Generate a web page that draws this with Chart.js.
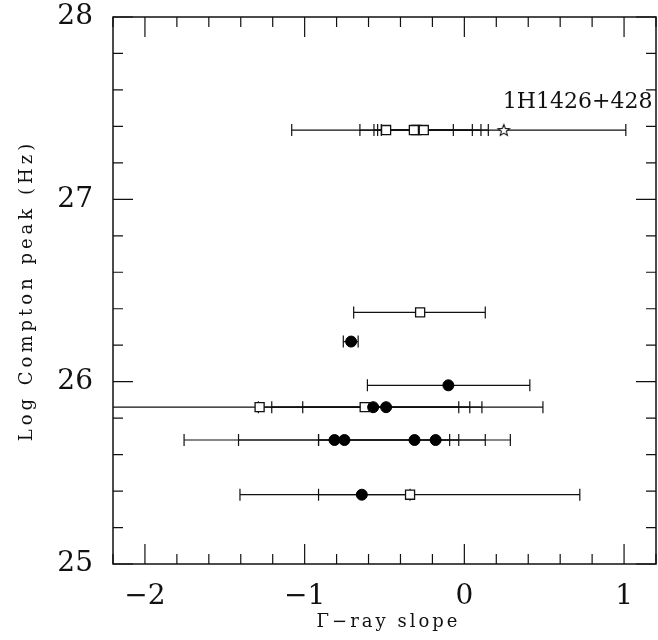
<!DOCTYPE html>
<html>
<head>
<meta charset="utf-8">
<script src="https://cdn.jsdelivr.net/npm/chart.js@4.4.1/dist/chart.umd.min.js"></script>
<style>
  body { margin: 0; background: #fff; }
  canvas { display: block; }
</style>
</head>
<body>
<canvas id="comptonChart" width="658" height="640"></canvas>
<script>
// Filled circles: slope, log peak, error bar ends
const circleX  = [-0.709, -0.10, -0.571, -0.49, -0.813, -0.751, -0.312, -0.18, -0.642];
const circleY  = [26.22, 25.98, 25.86, 25.86, 25.68, 25.68, 25.68, 25.68, 25.38];
const circleLo = [-0.758, -0.607, -1.012, -1.206, -1.414, -1.755, -0.913, -0.913, -0.913];
const circleHi = [-0.665, 0.41, -0.035, 0.11, -0.092, 0.288, 0.131, -0.035, -0.34];

// Open squares
const squareX  = [-0.49, -0.30, -0.316, -0.254, -0.277, -1.282, -0.624, -0.34];
const squareY  = [27.38, 27.38, 27.38, 27.38, 26.38, 25.86, 25.86, 25.38];
const squareLo = [-0.654, -0.52, -0.566, -0.543, -0.693, -2.45, -1.29, -1.405];
const squareHi = [0.15, 0.05, -0.069, 0.104, 0.131, 0.492, 0.034, 0.723];

// Star (1H1426+428)
const starX  = [0.247];
const starY  = [27.38];
const starLo = [-1.081];
const starHi = [1.011];
const starLabel = "1H1426+428";

const xTickValues = [-2, -1, 0, 1];
const yTickValues = [25, 26, 27, 28];
const xTitle = "\u0393\u2212ray slope";
const yTitle = "Log Compton peak (Hz)";

const SERIF = '"DejaVu Serif", serif';
Chart.defaults.font.family = SERIF;
Chart.defaults.color = "#111";

const toPoints = (xs, ys, lo, hi) =>
  xs.map((x, i) => ({ x: x, y: ys[i], lo: lo[i], hi: hi[i] }));

// open five-point star used as point style
const starImg = document.createElement("canvas");
starImg.width = 16;
starImg.height = 16;
(() => {
  const c = starImg.getContext("2d");
  c.beginPath();
  for (let i = 0; i < 10; i++) {
    const r = i % 2 === 0 ? 6 : 2.6;
    const a = -Math.PI / 2 + (i * Math.PI) / 5;
    const px = 8 + r * Math.cos(a), py = 8.5 + r * Math.sin(a);
    i === 0 ? c.moveTo(px, py) : c.lineTo(px, py);
  }
  c.closePath();
  c.fillStyle = "#fff";
  c.fill();
  c.strokeStyle = "#111";
  c.lineWidth = 1.1;
  c.stroke();
})();

// error bars under the points, frame + inward ticks + texts on top
const framePlugin = {
  id: "framePlugin",
  beforeDatasetsDraw(chart) {
    const { ctx, chartArea: a, scales: { x, y } } = chart;
    ctx.save();
    ctx.beginPath();
    ctx.rect(a.left, a.top, a.right - a.left, a.bottom - a.top);
    ctx.clip();
    ctx.strokeStyle = "#111";
    ctx.lineWidth = 1.2;
    chart.data.datasets.forEach((ds) => {
      ds.data.forEach((p) => {
        const py = y.getPixelForValue(p.y);
        const x0 = x.getPixelForValue(p.lo);
        const x1 = x.getPixelForValue(p.hi);
        ctx.beginPath();
        ctx.moveTo(x0, py); ctx.lineTo(x1, py);
        ctx.moveTo(x0, py - 6); ctx.lineTo(x0, py + 6);
        ctx.moveTo(x1, py - 6); ctx.lineTo(x1, py + 6);
        ctx.stroke();
      });
    });
    ctx.restore();
  },
  afterDraw(chart) {
    const { ctx, chartArea: a, scales: { x, y } } = chart;
    ctx.save();
    ctx.strokeStyle = "#111";
    ctx.lineWidth = 1.5;
    ctx.strokeRect(a.left, a.top, a.right - a.left, a.bottom - a.top);

    ctx.lineWidth = 1.2;
    ctx.beginPath();
    // x ticks every 0.2
    for (let k = Math.ceil(x.min * 5); k <= Math.floor(x.max * 5); k++) {
      const px = x.getPixelForValue(k / 5);
      const len = k % 5 === 0 ? 20 : 10;
      ctx.moveTo(px, a.bottom); ctx.lineTo(px, a.bottom - len);
      ctx.moveTo(px, a.top); ctx.lineTo(px, a.top + len);
    }
    // y ticks every 0.2
    for (let k = Math.ceil(y.min * 5); k <= Math.floor(y.max * 5); k++) {
      const py = y.getPixelForValue(k / 5);
      const len = k % 5 === 0 ? 20 : 10;
      ctx.moveTo(a.left, py); ctx.lineTo(a.left + len, py);
      ctx.moveTo(a.right, py); ctx.lineTo(a.right - len, py);
    }
    ctx.stroke();

    ctx.fillStyle = "#111";
    ctx.textAlign = "left";
    ctx.textBaseline = "alphabetic";
    // source label
    ctx.font = "22px " + SERIF;
    ctx.fillText(starLabel, x.getPixelForValue(starX[0]) - 1, y.getPixelForValue(starY[0]) - 22);

    // axis titles, spaced out like the plotter font
    ctx.textAlign = "center";
    ctx.textBaseline = "middle";
    ctx.font = "18px " + SERIF;
    ctx.letterSpacing = "3px";
    ctx.fillText(xTitle, (a.left + a.right) / 2 + 4, 622);
    ctx.letterSpacing = "4px";
    ctx.translate(27, (a.top + a.bottom) / 2);
    ctx.rotate(-Math.PI / 2);
    ctx.fillText(yTitle, 0, 0);
    ctx.restore();
  }
};

const fmt = (v) => (v < 0 ? "\u2212" + Math.abs(v) : String(v));

new Chart(document.getElementById("comptonChart"), {
  type: "scatter",
  data: {
    datasets: [
      {
        label: "filled",
        data: toPoints(circleX, circleY, circleLo, circleHi),
        pointStyle: "circle",
        pointRadius: 5.5,
        backgroundColor: "#000",
        borderColor: "#000",
        borderWidth: 1
      },
      {
        label: "open",
        data: toPoints(squareX, squareY, squareLo, squareHi),
        pointStyle: "rect",
        pointRadius: 6.4,
        backgroundColor: "#fff",
        borderColor: "#111",
        borderWidth: 1.3
      },
      {
        label: starLabel,
        data: toPoints(starX, starY, starLo, starHi),
        pointStyle: starImg,
        pointRadius: 7
      }
    ]
  },
  options: {
    responsive: false,
    animation: false,
    events: [],
    layout: { autoPadding: false, padding: { top: 17, right: 2, left: 0, bottom: 0 } },
    plugins: { legend: { display: false }, tooltip: { enabled: false } },
    scales: {
      x: {
        type: "linear",
        min: -2.2,
        max: 1.2,
        grid: { display: false, drawTicks: false },
        border: { display: false },
        afterBuildTicks: (s) => { s.ticks = xTickValues.map((v) => ({ value: v })); },
        afterFit: (s) => { s.height = 76; s.paddingLeft = 0; s.paddingRight = 0; },
        ticks: { padding: 16, font: { size: 28 }, callback: (v) => fmt(v) },
        title: { display: false }
      },
      y: {
        type: "linear",
        min: 25,
        max: 28,
        grid: { display: false, drawTicks: false },
        border: { display: false },
        afterBuildTicks: (s) => { s.ticks = yTickValues.map((v) => ({ value: v })); },
        afterFit: (s) => { s.width = 113; s.paddingTop = 0; s.paddingBottom = 0; },
        ticks: { padding: 20, font: { size: 28 }, callback: (v) => fmt(v) },
        title: { display: false }
      }
    }
  },
  plugins: [framePlugin]
});
</script>
</body>
</html>
